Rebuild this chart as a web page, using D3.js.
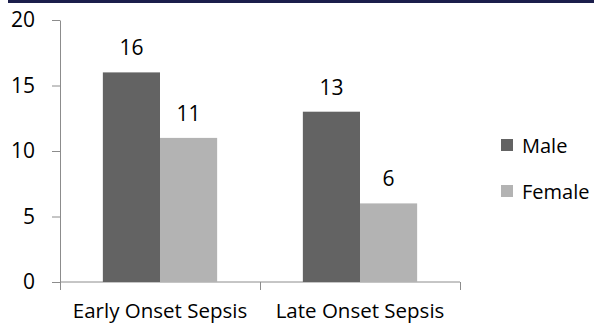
<!DOCTYPE html>
<html>
<head>
<meta charset="utf-8">
<script src="https://cdn.jsdelivr.net/npm/d3@7"></script>
<style>
  body { margin: 0; background: #fff; }
  text { font-family: "Open Sans", sans-serif; fill: #000; }
</style>
</head>
<body>
<svg id="chart" width="594" height="323"></svg>
<script>
// chart data
const categories = ["Early Onset Sepsis", "Late Onset Sepsis"];
const seriesNames = ["Male", "Female"];
const maleValues = [16, 13];
const femaleValues = [11, 6];
const yTicks = [0, 5, 10, 15, 20];

const colors = { Male: "#636363", Female: "#b3b3b3" };

const svg = d3.select("#chart");

// navy rule along the top
svg.append("rect")
    .attr("x", 8).attr("y", 0)
    .attr("width", 586).attr("height", 3)
    .attr("fill", "#1b1e4b");

const x = d3.scaleBand()
    .domain(categories)
    .range([60, 460]);

const xSub = d3.scaleBand()
    .domain(seriesNames)
    .range([0, x.bandwidth()])
    .paddingInner(0)
    .paddingOuter(0.75);

const y = d3.scaleLinear()
    .domain([0, 20])
    .range([282, 20]);

const rows = categories.map((c, i) => ({
    category: c,
    values: [
        { series: "Male", value: maleValues[i] },
        { series: "Female", value: femaleValues[i] }
    ]
}));

// y axis
const yAxis = svg.append("g")
    .attr("transform", "translate(60,0)")
    .call(d3.axisLeft(y).tickValues(yTicks).tickSize(8).tickPadding(17).tickSizeOuter(0));
yAxis.select(".domain").attr("stroke", "#8c8c8c");
yAxis.selectAll(".tick line").attr("stroke", "#8c8c8c");
yAxis.selectAll(".tick text")
    .attr("font-size", 21)
    .attr("font-family", "Open Sans, sans-serif")
    .attr("fill", "#000");

// x axis line + boundary ticks
svg.append("line")
    .attr("x1", 60).attr("x2", 460)
    .attr("y1", y(0)).attr("y2", y(0))
    .attr("stroke", "#8c8c8c");

const bounds = [x(categories[0])].concat(categories.map(c => x(c) + x.bandwidth()));
svg.selectAll(".xtick")
    .data(bounds)
    .enter().append("line")
    .attr("x1", d => d + 0.5).attr("x2", d => d + 0.5)
    .attr("y1", y(0)).attr("y2", y(0) + 8)
    .attr("stroke", "#8c8c8c");

svg.selectAll(".xlabel")
    .data(categories)
    .enter().append("text")
    .attr("x", d => x(d) + x.bandwidth() / 2)
    .attr("y", 318)
    .attr("text-anchor", "middle")
    .attr("font-size", 20.5)
    .text(d => d);

// bars
const group = svg.selectAll(".cat")
    .data(rows)
    .enter().append("g")
    .attr("transform", d => `translate(${x(d.category)},0)`);

group.selectAll("rect")
    .data(d => d.values)
    .enter().append("rect")
    .attr("x", d => xSub(d.series))
    .attr("y", d => y(d.value))
    .attr("width", xSub.bandwidth())
    .attr("height", d => y(0) - y(d.value))
    .attr("fill", d => colors[d.series]);

group.selectAll(".label")
    .data(d => d.values)
    .enter().append("text")
    .attr("x", d => xSub(d.series) + xSub.bandwidth() / 2)
    .attr("y", d => y(d.value) - 17)
    .attr("text-anchor", "middle")
    .attr("font-size", 21)
    .text(d => d.value);

// legend
const legend = svg.selectAll(".legend")
    .data(seriesNames)
    .enter().append("g")
    .attr("transform", (d, i) => `translate(501,${139 + i * 46})`);

legend.append("rect")
    .attr("width", 12).attr("height", 12)
    .attr("fill", d => colors[d]);

legend.append("text")
    .attr("x", 21)
    .attr("y", 14)
    .attr("font-size", 20)
    .text(d => d);
</script>
</body>
</html>
